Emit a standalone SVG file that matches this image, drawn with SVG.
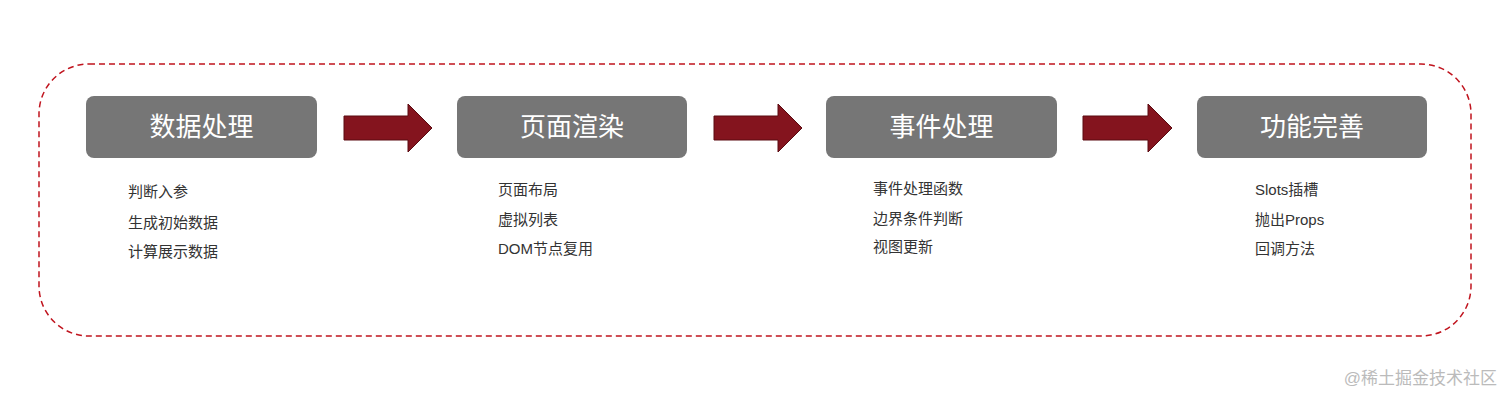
<svg xmlns="http://www.w3.org/2000/svg" width="1512" height="401" viewBox="0 0 1512 401">
<style>
.box{fill:#767676}
.t{font-family:"Liberation Sans","Noto Sans CJK SC",sans-serif;fill:#fff;font-size:26px;text-anchor:middle}
.s{font-family:"Liberation Sans","Noto Sans CJK SC",sans-serif;fill:#333;font-size:15px}
.arr{fill:#84141e;stroke:#5a0a10;stroke-width:1}
</style>
<rect width="1512" height="401" fill="#fff"/>
<rect x="39" y="64" width="1432" height="272" rx="50" fill="none" stroke="#c0141e" stroke-width="1.5" stroke-dasharray="6,4"/>
<g id="n1"><rect class="box" x="86" y="96" width="231" height="62" rx="8"/><text class="t" x="201.5" y="136">数据处理</text>
<text class="s" x="128" y="197">判断入参</text><text class="s" x="128" y="228">生成初始数据</text><text class="s" x="128" y="257">计算展示数据</text></g>
<g id="n2"><rect class="box" x="457" y="96" width="230" height="62" rx="8"/><text class="t" x="572" y="136">页面渲染</text>
<text class="s" x="498" y="195">页面布局</text><text class="s" x="498" y="225">虚拟列表</text><text class="s" x="498" y="254">DOM节点复用</text></g>
<g id="n3"><rect class="box" x="826" y="96" width="231" height="62" rx="8"/><text class="t" x="941.5" y="136">事件处理</text>
<text class="s" x="873" y="194">事件处理函数</text><text class="s" x="873" y="224">边界条件判断</text><text class="s" x="873" y="252">视图更新</text></g>
<g id="n4"><rect class="box" x="1197" y="96" width="230" height="62" rx="8"/><text class="t" x="1312" y="136">功能完善</text>
<text class="s" x="1255" y="195">Slots插槽</text><text class="s" x="1255" y="225">抛出Props</text><text class="s" x="1255" y="254">回调方法</text></g>
<g id="connectors">
<polygon class="arr" points="344,116 408,116 408,104 432,128 408,152 408,140 344,140"/>
<polygon class="arr" points="714,116 778,116 778,104 802,128 778,152 778,140 714,140"/>
<polygon class="arr" points="1083,116 1148,116 1148,104 1172,128 1148,152 1148,140 1083,140"/>
</g>
<text x="1497" y="384" text-anchor="end" font-family="Liberation Sans,Noto Sans CJK SC,sans-serif" font-size="17" fill="#bbb">@稀土掘金技术社区</text>
</svg>
